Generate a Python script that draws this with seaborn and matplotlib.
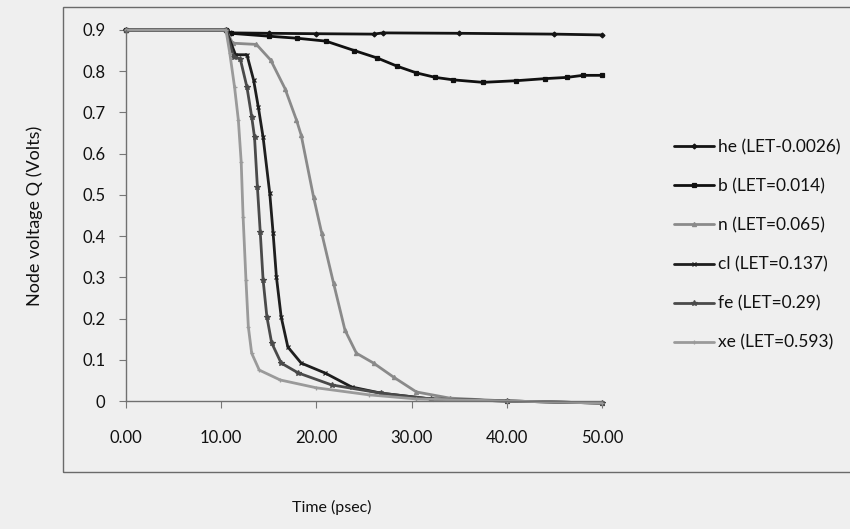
import matplotlib
matplotlib.use("Agg")
import matplotlib.pyplot as plt
import seaborn as sns
import pandas as pd
from matplotlib.patches import Rectangle

# ---- data ----
t_he = [0, 10.5, 11.0, 15.0, 20.0, 26.0, 27.0, 35.0, 45.0, 50.0]
v_he = [0.9, 0.9, 0.893, 0.892, 0.891, 0.890, 0.893, 0.892, 0.890, 0.888]

t_b = [0, 10.5, 11.0, 15.0, 18.0, 21.0, 24.0, 26.4, 28.5, 30.5, 32.5, 34.4, 37.5, 41.0, 44.0, 46.3, 48.0, 50.0]
v_b = [0.9, 0.9, 0.892, 0.885, 0.880, 0.873, 0.850, 0.832, 0.812, 0.796, 0.785, 0.779, 0.773, 0.777, 0.782, 0.785, 0.790, 0.790]

t_n = [0, 10.5, 11.2, 13.7, 15.2, 16.7, 17.9, 18.4, 19.7, 20.55, 21.8, 23.0, 24.2, 26.0, 28.1, 30.5, 34.0, 40.0, 50.0]
v_n = [0.9, 0.9, 0.868, 0.865, 0.827, 0.758, 0.682, 0.645, 0.495, 0.408, 0.286, 0.172, 0.116, 0.092, 0.058, 0.022, 0.007, 0.0, -0.005]

t_cl = [0, 10.5, 11.5, 12.7, 13.4, 13.9, 14.4, 15.1, 15.45, 15.8, 16.3, 17.0, 18.4, 20.9, 23.7, 26.8, 32.0, 40.0, 50.0]
v_cl = [0.9, 0.9, 0.840, 0.840, 0.779, 0.713, 0.640, 0.504, 0.408, 0.301, 0.204, 0.131, 0.092, 0.068, 0.034, 0.019, 0.005, 0.0, -0.005]

t_fe = [0, 10.5, 11.3, 12.0, 12.7, 13.2, 13.5, 13.8, 14.1, 14.4, 14.8, 15.3, 16.3, 18.1, 21.6, 26.8, 32.0, 40.0, 50.0]
v_fe = [0.9, 0.9, 0.835, 0.830, 0.762, 0.690, 0.640, 0.520, 0.410, 0.294, 0.204, 0.141, 0.092, 0.068, 0.039, 0.019, 0.005, 0.0, -0.005]

t_xe = [0, 10.5, 10.9, 11.4, 11.8, 12.1, 12.3, 12.6, 12.85, 13.2, 14.0, 16.2, 20.0, 25.5, 30.5, 40.0, 50.0]
v_xe = [0.9, 0.9, 0.844, 0.762, 0.682, 0.580, 0.447, 0.294, 0.180, 0.116, 0.075, 0.051, 0.032, 0.015, 0.005, 0.0, -0.005]

labels = ["he (LET-0.0026)", "b (LET=0.014)", "n (LET=0.065)",
          "cl (LET=0.137)", "fe (LET=0.29)", "xe (LET=0.593)"]
x_ticks = [0, 10, 20, 30, 40, 50]
x_ticklabels = ["0.00", "10.00", "20.00", "30.00", "40.00", "50.00"]
y_ticks = [0, 0.1, 0.2, 0.3, 0.4, 0.5, 0.6, 0.7, 0.8, 0.9]
y_ticklabels = ["0", "0.1", "0.2", "0.3", "0.4", "0.5", "0.6", "0.7", "0.8", "0.9"]

series = [(t_he, v_he), (t_b, v_b), (t_n, v_n), (t_cl, v_cl), (t_fe, v_fe), (t_xe, v_xe)]
colors = ["#141414", "#101010", "#8a8a8a", "#1e1e1e", "#4a4a4a", "#9a9a9a"]
markers = ["D", "s", "^", "x", "*", "+"]
msizes = [2.5, 3, 3, 3.5, 4, 3.5]

sns.set_theme(style="white")
plt.rcParams['font.family'] = ['Lato', 'DejaVu Sans']

bg = "#efefef"
fig = plt.figure(figsize=(8.5, 5.29), dpi=100, facecolor=bg)
ax = fig.add_axes([126/850, 1-401/529, (602-126)/850, (401-30)/529])
ax.set_facecolor(bg)

# chart border
fig.patches.append(Rectangle((63/850, 1-472/529), 1.0, (472-7)/529,
                             transform=fig.transFigure, fill=False,
                             edgecolor="#6a6a6a", linewidth=1.0))

for (t, v), lab, c, m, ms in zip(series, labels, colors, markers, msizes):
    df = pd.DataFrame({"t": t, "v": v})
    sns.lineplot(data=df, x="t", y="v", ax=ax, color=c, marker=m, markersize=ms,
                 markeredgecolor=c, markerfacecolor=c, markeredgewidth=0.9,
                 linewidth=2.6, label=lab, sort=False, estimator=None, clip_on=False)

ax.set_xlim(0, 50)
ax.set_ylim(0, 0.9)
ax.set_xticks(x_ticks)
ax.set_xticklabels(x_ticklabels)
ax.set_yticks(y_ticks)
ax.set_yticklabels(y_ticklabels)
ax.tick_params(axis="x", direction="out", length=5, width=0.8, color="#777777",
               pad=16, labelsize=12, labelcolor="#111111", bottom=True)
ax.tick_params(axis="y", direction="out", length=5, width=0.8, color="#777777",
               pad=10, labelsize=12, labelcolor="#111111", left=True)
for s in ["top", "right"]:
    ax.spines[s].set_visible(False)
for s in ["left", "bottom"]:
    ax.spines[s].set_color("#707070")
    ax.spines[s].set_linewidth(1.0)

ax.set_xlabel("")
ax.set_ylabel("")
fig.text(332/850, 1-507/529, "Time (psec)", ha="center", va="center",
         fontsize=11.5, color="#111111")
fig.text(35/850, 1-216/529, "Node voltage Q (Volts)", ha="center", va="center",
         rotation=90, fontsize=13, color="#111111")

handles, labs = ax.get_legend_handles_labels()
for h in handles:
    h.set_linewidth(2.0)
ax.legend(handles, labs, loc="center left", bbox_to_anchor=(658/850, 1-245/529),
          bbox_transform=fig.transFigure, frameon=False, fontsize=12.5,
          handlelength=2.3, handletextpad=0.25, labelspacing=1.32,
          labelcolor="#111111")

fig.savefig("out.png", dpi=100, facecolor=bg)
